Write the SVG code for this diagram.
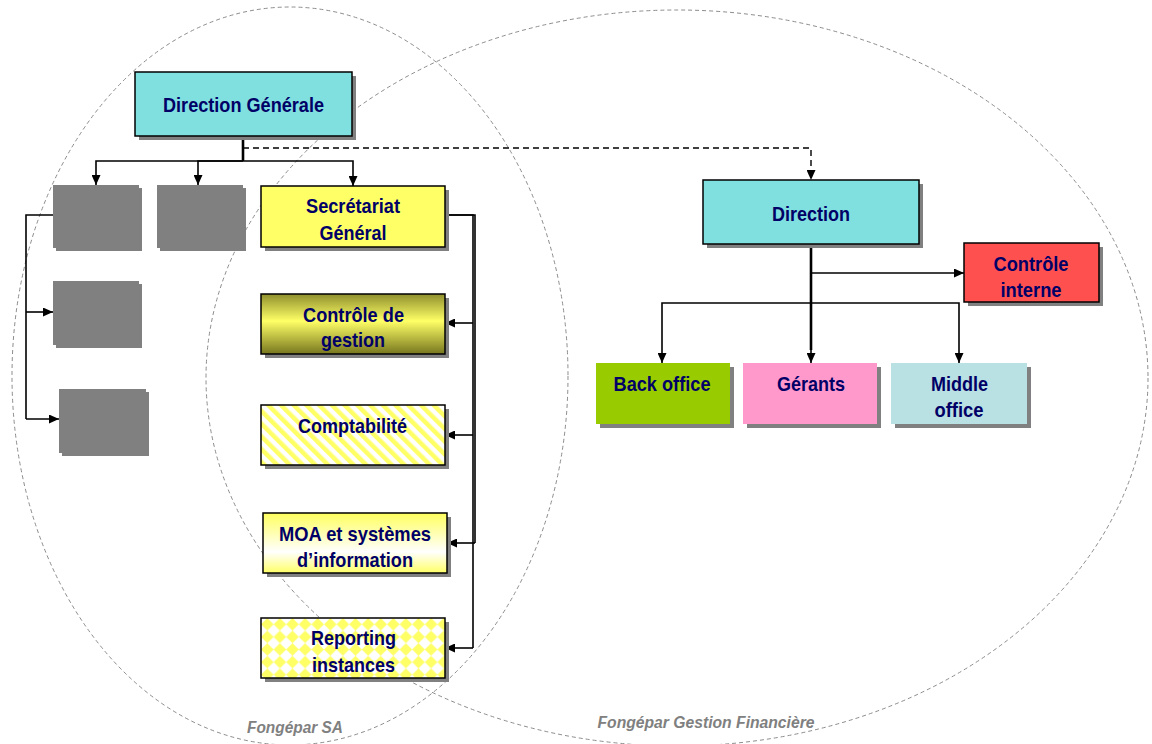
<svg xmlns="http://www.w3.org/2000/svg" width="1152" height="744" viewBox="0 0 1152 744">
<style>
.bg{fill:#ffffff}
.ell{fill:none;stroke:#8c8c8c;stroke-width:1;stroke-dasharray:4 3}
.sh{fill:#808080}
.box{stroke:#000000;stroke-width:1.5}
.gray{fill:#808080}
.t{font-family:"Liberation Sans",Arial,Helvetica,sans-serif;font-weight:bold;font-size:21px;fill:#000066;text-anchor:middle}
.lbl{font-family:"Liberation Sans",Arial,Helvetica,sans-serif;font-weight:bold;font-style:italic;font-size:16px;fill:#808080;text-anchor:middle}
.c{fill:none;stroke:#000000;stroke-width:1.6;marker-end:url(#arr)}
.cn{fill:none;stroke:#000000;stroke-width:1.6}
.thick{fill:none;stroke:#000000;stroke-width:2.6}
.dash{fill:none;stroke:#000000;stroke-width:1.4;stroke-dasharray:6 4;marker-end:url(#arr)}
</style>
<defs>
<marker id="arr" viewBox="0 0 10 10" refX="10" refY="5" markerWidth="10" markerHeight="9" orient="auto" markerUnits="userSpaceOnUse" preserveAspectRatio="none">
<path d="M0,0 L10,5 L0,10 z" fill="#000000"/>
</marker>
<linearGradient id="gOlive" x1="0" y1="0" x2="0" y2="1">
<stop offset="0" stop-color="#8F8F2E"/>
<stop offset="0.45" stop-color="#FFFF66"/>
<stop offset="1" stop-color="#77771F"/>
</linearGradient>
<linearGradient id="gMoa" x1="0" y1="0" x2="0" y2="1">
<stop offset="0" stop-color="#FFFF5E"/>
<stop offset="0.65" stop-color="#FFFFFF"/>
<stop offset="1" stop-color="#FFFF66"/>
</linearGradient>
<pattern id="stripes" width="9" height="9" patternUnits="userSpaceOnUse" patternTransform="rotate(-45)">
<rect width="9" height="9" fill="#FFFFFF"/>
<rect width="4.5" height="9" fill="#FFFF66"/>
</pattern>
<pattern id="diam" x="261" y="618" width="12.6" height="12.6" patternUnits="userSpaceOnUse">
<rect width="12.6" height="12.6" fill="#FFFFFF"/>
<polygon points="6.3,0 12.6,6.3 6.3,12.6 0,6.3" fill="#FFFF66"/>
</pattern>
</defs>
<rect class="bg" x="0" y="0" width="1152" height="744"/>

<g id="zones">
<ellipse class="ell" cx="290" cy="376" rx="278" ry="369"/>
<ellipse class="ell" cx="677" cy="378" rx="471" ry="368"/>
<text class="lbl" x="295" y="733" textLength="96" lengthAdjust="spacingAndGlyphs">Fongépar SA</text>
<text class="lbl" x="706" y="728" textLength="217" lengthAdjust="spacingAndGlyphs">Fongépar Gestion Financière</text>
</g>

<g id="connectors">
<path class="thick" d="M243,136 V161"/>
<path class="c" d="M243,161 H96 V185"/>
<path class="c" d="M243,161 H198 V185"/>
<path class="c" d="M243,161 H353 V186"/>
<path class="dash" d="M243,148 H811 V180"/>
<path class="cn" d="M53,215 H26 V419"/>
<path class="c" d="M26,312 H53"/>
<path class="c" d="M26,419 H59"/>
<path class="cn" d="M445,215 H475 V543"/>
<path class="cn" d="M445,215 H473 V648"/>
<path class="c" d="M473,323 H445"/>
<path class="c" d="M473,435 H445"/>
<path class="c" d="M475,543 H447"/>
<path class="c" d="M473,648 H445"/>
<path class="thick" d="M811,244 V350"/>
<path class="c" d="M811,300 V363"/>
<path class="c" d="M811,273 H964"/>
<path class="c" d="M811,303 H662 V363"/>
<path class="c" d="M811,303 H959 V363"/>
</g>

<g id="n-direction-generale">
<rect class="sh" x="139" y="76" width="217" height="64"/>
<rect class="box" x="135" y="72" width="217" height="64" fill="#80E0E0"/>
<text class="t" x="243.5" y="112" textLength="161" lengthAdjust="spacingAndGlyphs">Direction Générale</text>
</g>

<g id="n-gray-1">
<rect class="gray" x="56" y="188" width="86" height="63"/>
<rect class="gray" x="53" y="185" width="86" height="63"/>
</g>
<g id="n-gray-2">
<rect class="gray" x="160" y="188" width="86" height="63"/>
<rect class="gray" x="157" y="185" width="86" height="63"/>
</g>
<g id="n-gray-3">
<rect class="gray" x="56" y="284" width="86" height="64"/>
<rect class="gray" x="53" y="281" width="86" height="64"/>
</g>
<g id="n-gray-4">
<rect class="gray" x="62" y="392" width="87" height="64"/>
<rect class="gray" x="59" y="389" width="87" height="64"/>
</g>

<g id="n-secretariat">
<rect class="sh" x="265" y="190" width="184" height="61"/>
<rect class="box" x="261" y="186" width="184" height="61" fill="#FFFF66"/>
<text class="t" x="353" y="213" textLength="94" lengthAdjust="spacingAndGlyphs">Secrétariat</text>
<text class="t" x="353" y="240" textLength="67" lengthAdjust="spacingAndGlyphs">Général</text>
</g>

<g id="n-controle-gestion">
<rect class="sh" x="265" y="298" width="184" height="60"/>
<rect class="box" x="261" y="294" width="184" height="60" fill="url(#gOlive)"/>
<text class="t" x="353.5" y="322" textLength="101" lengthAdjust="spacingAndGlyphs">Contrôle de</text>
<text class="t" x="353" y="347" textLength="64" lengthAdjust="spacingAndGlyphs">gestion</text>
</g>

<g id="n-comptabilite">
<rect class="sh" x="265" y="409" width="184" height="60"/>
<rect class="box" x="261" y="405" width="184" height="60" fill="url(#stripes)"/>
<text class="t" x="352.5" y="433" textLength="109" lengthAdjust="spacingAndGlyphs">Comptabilité</text>
</g>

<g id="n-moa">
<rect class="sh" x="267" y="517" width="184" height="60"/>
<rect class="box" x="263" y="513" width="184" height="60" fill="url(#gMoa)"/>
<text class="t" x="355" y="541" textLength="152" lengthAdjust="spacingAndGlyphs">MOA et systèmes</text>
<text class="t" x="355" y="567" textLength="116" lengthAdjust="spacingAndGlyphs">d’information</text>
</g>

<g id="n-reporting">
<rect class="sh" x="265" y="622" width="184" height="60"/>
<rect class="box" x="261" y="618" width="184" height="60" fill="url(#diam)"/>
<text class="t" x="353.5" y="645" textLength="85" lengthAdjust="spacingAndGlyphs">Reporting</text>
<text class="t" x="353.5" y="672" textLength="83" lengthAdjust="spacingAndGlyphs">instances</text>
</g>

<g id="n-direction">
<rect class="sh" x="707" y="184" width="216" height="64"/>
<rect class="box" x="703" y="180" width="216" height="64" fill="#80E0E0"/>
<text class="t" x="811" y="221" textLength="78" lengthAdjust="spacingAndGlyphs">Direction</text>
</g>

<g id="n-controle-interne">
<rect class="sh" x="968" y="247" width="135" height="59"/>
<rect class="box" x="964" y="243" width="135" height="59" fill="#FF5050"/>
<text class="t" x="1031" y="271" textLength="75" lengthAdjust="spacingAndGlyphs">Contrôle</text>
<text class="t" x="1031" y="297" textLength="61" lengthAdjust="spacingAndGlyphs">interne</text>
</g>

<g id="n-back-office">
<rect class="sh" x="600" y="367" width="134" height="61"/>
<rect x="596" y="363" width="134" height="61" fill="#99CC00"/>
<text class="t" x="662" y="391" textLength="97" lengthAdjust="spacingAndGlyphs">Back office</text>
</g>

<g id="n-gerants">
<rect class="sh" x="747" y="367" width="134" height="61"/>
<rect x="743" y="363" width="134" height="61" fill="#FF99CC"/>
<text class="t" x="811" y="391" textLength="68" lengthAdjust="spacingAndGlyphs">Gérants</text>
</g>

<g id="n-middle-office">
<rect class="sh" x="895" y="367" width="136" height="61"/>
<rect x="891" y="363" width="136" height="61" fill="#B9E0E2"/>
<text class="t" x="959.5" y="391" textLength="57" lengthAdjust="spacingAndGlyphs">Middle</text>
<text class="t" x="959" y="417" textLength="49" lengthAdjust="spacingAndGlyphs">office</text>
</g>
</svg>
